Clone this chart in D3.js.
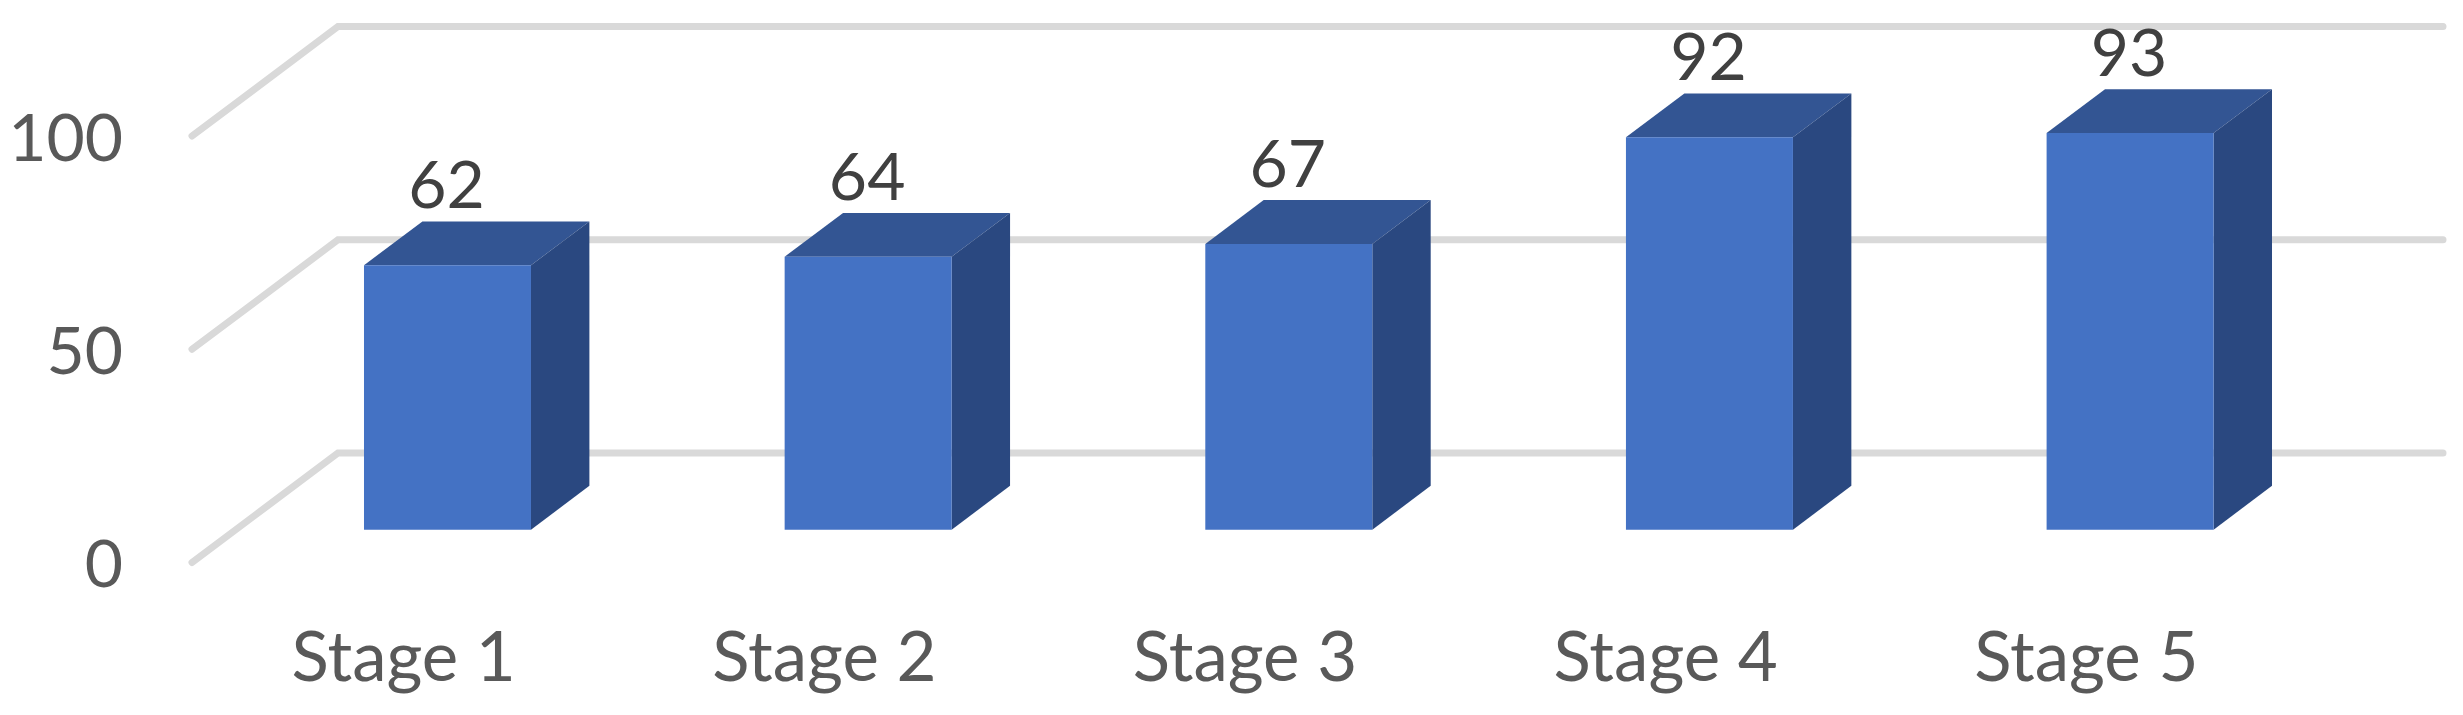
<!DOCTYPE html>
<html>
<head>
<meta charset="utf-8">
<script src="https://cdnjs.cloudflare.com/ajax/libs/d3/7.8.5/d3.min.js"></script>
<style>
    html, body { margin: 0; padding: 0; background: #fff; }
    svg { display: block; }
    text { font-family: Lato, "Open Sans", sans-serif; }
</style>
</head>
<body>
<script>
// data
var categories = ['Stage 1', 'Stage 2', 'Stage 3', 'Stage 4', 'Stage 5'];
var values = [62, 64, 67, 92, 93];
var yTicks = [0, 50, 100];

var width = 2463,
    height = 715;

// the chart is an oblique 3d box: depth 0 is the front plane, depth 1 the back wall
var depthX = 146,
    depthY = 109.5,
    barFront = 0.3,
    barBack = 0.7;

var x = d3.scaleBand()
    .domain(categories)
    .range([194, 2296])
    .paddingInner(0.603)
    .paddingOuter(0.3);

var y = d3.scaleLinear()
    .domain([0, 100])
    .range([562.5, 136]);

// project a chart position onto the page
function px(xPos, depth) {
    return xPos + depth * depthX;
}
function py(value, depth) {
    return y(value) - depth * depthY;
}
function points(list) {
    return list.map(function (p) {
        return px(p[0], p[1]) + ',' + py(p[2], p[1]);
    }).join(' ');
}

var svg = d3.select('body').append('svg')
    .attr('width', width)
    .attr('height', height);

// gridlines: diagonal on the side wall, then flat along the back wall
var xStart = 192,
    xEnd = 2297;

svg.append('g').selectAll('polyline')
    .data(yTicks)
    .enter().append('polyline')
    .attr('points', function (d) {
        return points([[xStart, 0, d], [xStart, 1, d], [xEnd, 1, d]]);
    })
    .attr('fill', 'none')
    .attr('stroke', '#d9d9d9')
    .attr('stroke-width', 7)
    .attr('stroke-linecap', 'round');

// bars
var bars = svg.append('g').selectAll('g')
    .data(values)
    .enter().append('g');

function barX(i) {
    return x(categories[i]);
}

// top face
bars.append('polygon')
    .attr('points', function (d, i) {
        var l = barX(i), r = l + x.bandwidth();
        return points([[l, barFront, d], [r, barFront, d], [r, barBack, d], [l, barBack, d]]);
    })
    .attr('fill', '#335593');

// side face
bars.append('polygon')
    .attr('points', function (d, i) {
        var r = barX(i) + x.bandwidth();
        return points([[r, barFront, 0], [r, barBack, 0], [r, barBack, d], [r, barFront, d]]);
    })
    .attr('fill', '#2a4880');

// front face
bars.append('polygon')
    .attr('points', function (d, i) {
        var l = barX(i), r = l + x.bandwidth();
        return points([[l, barFront, 0], [r, barFront, 0], [r, barFront, d], [l, barFront, d]]);
    })
    .attr('fill', '#4472c4');

// value labels
bars.append('text')
    .attr('x', function (d, i) { return px(barX(i) + x.bandwidth() / 2, barFront) - 1; })
    .attr('y', function (d) { return py(d, barBack) - 13; })
    .attr('text-anchor', 'middle')
    .attr('font-size', 66)
    .attr('fill', '#404040')
    .text(function (d) { return d; });

// axes, labels only
var yAxis = svg.append('g')
    .attr('transform', 'translate(' + (xStart + 1) + ',3)')
    .call(d3.axisLeft(y).tickValues(yTicks).tickSize(0).tickPadding(70));

var xAxis = svg.append('g')
    .attr('transform', 'translate(0,' + y(0) + ')')
    .call(d3.axisBottom(x).tickSize(0).tickPadding(70));

yAxis.select('.domain').remove();
xAxis.select('.domain').remove();

yAxis.selectAll('text')
    .attr('font-size', 66)
    .attr('fill', '#595959')
    .style('font-family', 'Lato, "Open Sans", sans-serif');

xAxis.selectAll('text')
    .attr('font-size', 69)
    .attr('fill', '#595959')
    .style('font-family', 'Lato, "Open Sans", sans-serif');
</script>
</body>
</html>
